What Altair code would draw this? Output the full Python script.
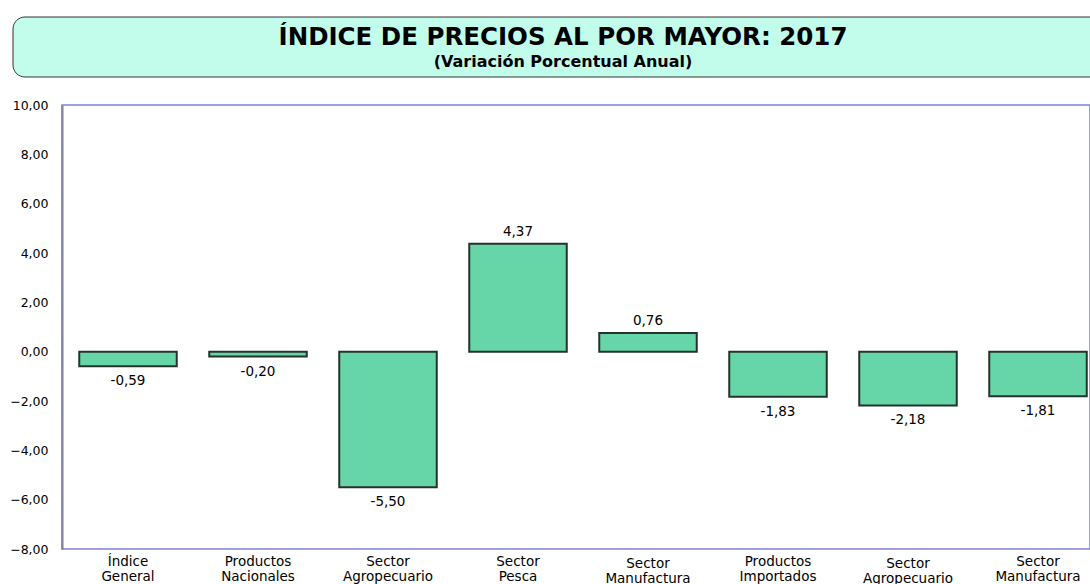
import altair as alt
import pandas as pd

categories = ["Índice|General", "Productos|Nacionales", "Sector|Agropecuario", "Sector|Pesca",
              "Sector|Manufactura", "Productos|Importados", "Sector|Agropecuario ", "Sector|Manufactura "]
values = [-0.59, -0.20, -5.50, 4.37, 0.76, -1.83, -2.18, -1.81]
labels = ["-0,59", "-0,20", "-5,50", "4,37", "0,76", "-1,83", "-2,18", "-1,81"]
y_ticks = [-8, -6, -4, -2, 0, 2, 4, 6, 8, 10]

df = pd.DataFrame({"cat": categories, "val": values, "lbl": labels})

FONT = "DejaVu Sans"

xenc = alt.X("cat:N", sort=categories,
             scale=alt.Scale(range=[1, 1041], paddingInner=0.25, paddingOuter=0.125),
             axis=alt.Axis(title=None, labelExpr="split(datum.label, '|')", labelAngle=0,
                           labelFont=FONT, labelFontSize=13.5, labelColor="#000", labelLineHeight=15,
                           labelPadding={"condition": {"test": "datum.label == 'Sector|Manufactura' || datum.label == 'Sector|Agropecuario '", "value": 7}, "value": 5},
                           ticks=False, domain=False, labelBaseline="top"))
yscale = alt.Scale(domain=[-8, 10], nice=False)

bars = alt.Chart(df).mark_bar(color="#66d6a8", stroke="#26332d", strokeWidth=2).encode(
    x=xenc,
    y=alt.Y("val:Q", scale=yscale,
            axis=alt.Axis(title=None, values=y_ticks, grid=False, ticks=False,
                          labelExpr="replace(format(datum.value, '.2f'), '.', ',')",
                          labelFont=FONT, labelFontSize=12.5, labelColor="#000", labelPadding=14,
                          domainColor="#7f7fa8", domainWidth=2)),
    y2=alt.datum(0),
)

pos = alt.Chart(df).transform_filter("datum.val >= 0").mark_text(
    baseline="bottom", dy=-5, font=FONT, fontSize=13.5, color="#000").encode(
    x=alt.X("cat:N", sort=categories), y=alt.Y("val:Q", scale=yscale), text="lbl:N")
neg = alt.Chart(df).transform_filter("datum.val < 0").mark_text(
    baseline="top", dy=8, font=FONT, fontSize=13.5, color="#000").encode(
    x=alt.X("cat:N", sort=categories), y=alt.Y("val:Q", scale=yscale), text="lbl:N")

box = alt.Chart(pd.DataFrame({"a": [0]})).mark_rect(
    fill="#c2fdec", stroke="#333333", strokeWidth=1, cornerRadius=12).encode(
    x=alt.value(-49), x2=alt.value(1045), y=alt.value(-88), y2=alt.value(-28))
t1 = alt.Chart(pd.DataFrame({"t": ["ÍNDICE DE PRECIOS AL POR MAYOR: 2017"]})).mark_text(
    font=FONT, fontSize=24.5, fontWeight="bold", color="#000", baseline="middle", align="center").encode(
    x=alt.value(501), y=alt.value(-67), text="t:N")
t2 = alt.Chart(pd.DataFrame({"t": ["(Variación Porcentual Anual)"]})).mark_text(
    font=FONT, fontSize=16, fontWeight="bold", color="#000", baseline="middle", align="center").encode(
    x=alt.value(501), y=alt.value(-43), text="t:N")

chart = alt.layer(bars, pos, neg, box, t1, t2).properties(
    width=1028, height=444,
    autosize=alt.AutoSizeParams(type="none"),
    padding={"left": 62, "top": 105, "right": 0, "bottom": 35},
    background="white",
).configure_view(stroke="#8080d8", strokeWidth=1.5)

chart.save("out.html", embed_options={"renderer": "svg", "actions": False})
